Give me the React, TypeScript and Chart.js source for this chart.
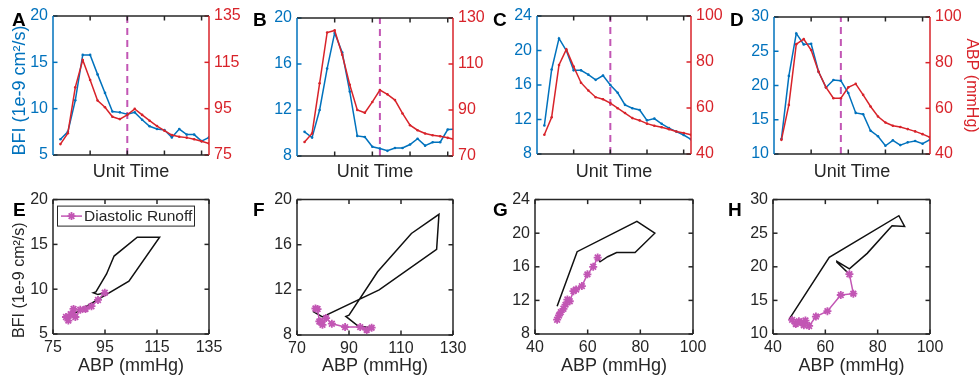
import React, { useEffect, useRef } from 'react';
import { Chart, registerables } from 'chart.js';

Chart.register(...registerables);

const FONT = '"Liberation Sans", Arial, Helvetica, sans-serif';
const BLUE = '#0072BD';
const RED = '#D8232A';
const MAGENTA = '#C256B4';
const DARK = '#262626';
const BLACK = '#111111';

// ---- data ----
const unitTime = [1, 2, 3, 4, 5, 6, 7, 8, 9, 10, 11, 12, 13, 14, 15, 16, 17, 18, 19, 20, 21];

const bfiA = [6.7, 7.5, 10.9, 15.8, 15.8, 13.7, 11.7, 9.7, 9.6, 9.4, 9.6, 8.8, 8.1, 7.8, 7.7, 6.9, 7.8, 7.2, 7.2, 6.5, 6.9];
const abpA = [79.7, 84.4, 104.2, 116.0, 107.4, 98.5, 95.6, 91.5, 90.5, 92.3, 94.9, 92.3, 89.8, 87.5, 85.5, 83.6, 82.9, 82.5, 81.8, 80.9, 80.0];

const bfiB = [10.1, 9.6, 12.0, 15.6, 18.7, 17.0, 13.6, 9.75, 9.65, 8.8, 8.65, 8.45, 8.7, 8.7, 9.0, 9.5, 8.9, 9.2, 9.2, 10.3, 10.35];
const abpB = [76.1, 79.8, 101.6, 123.7, 124.6, 114.0, 101.0, 90.0, 88.8, 93.5, 98.7, 96.8, 94.3, 88.5, 83.4, 81.2, 79.8, 79.0, 78.6, 77.9, 77.1];

const bfiC = [11.3, 17.8, 21.4, 20.0, 17.7, 17.7, 17.2, 16.6, 17.1, 16.0, 15.1, 13.7, 13.3, 13.1, 11.9, 12.1, 11.5, 11.0, 10.6, 10.2, 9.7];
const abpC = [48.4, 56.0, 78.7, 85.5, 78.0, 71.0, 67.6, 64.7, 63.8, 62.1, 59.9, 57.8, 55.6, 54.6, 53.2, 52.3, 51.6, 50.8, 49.8, 49.1, 48.4];

const bfiD = [12.2, 21.4, 27.6, 26.0, 26.1, 22.0, 19.7, 20.8, 20.7, 18.9, 16.0, 15.8, 13.4, 12.6, 11.2, 12.0, 11.3, 11.7, 11.9, 11.5, 12.1];
const abpD = [46.2, 61.5, 88.1, 90.3, 85.5, 76.0, 69.2, 64.4, 64.4, 69.2, 70.7, 65.9, 60.8, 56.4, 53.8, 52.4, 51.8, 50.9, 49.9, 48.7, 47.3];

// index (0-based) where diastolic runoff begins, and dashed-line time
const runoffStartA = 10;
const runoffStartB = 10;
const runoffStartC = 8;
const runoffStartD = 9;
const dashTimeA = 10;
const dashTimeB = 11;
const dashTimeC = 10;
const dashTimeD = 9;

// tick values
const timeTicks = [5, 10, 15, 20];
const bfiTicksA = [5, 10, 15, 20];
const abpTicksA = [75, 95, 115, 135];
const bfiTicksB = [8, 12, 16, 20];
const abpTicksB = [70, 90, 110, 130];
const bfiTicksC = [8, 12, 16, 20, 24];
const abpTicksC = [40, 60, 80, 100];
const bfiTicksD = [10, 15, 20, 25, 30];
const abpTicksD = [40, 60, 80, 100];

const BFI_LABEL = 'BFI (1e-9 cm\u00B2/s)';
const ABP_TITLE = 'ABP (mmHg)';

type Box = { x: number; y: number; w: number; h: number };
type Area = { l: number; t: number; r: number; b: number };

type PanelDef = {
  id: string;
  kind: 'top' | 'bottom';
  letter: string;
  letterPos: [number, number];
  box: Box;
  area: Area;
  bfi: number[];
  abp: number[];
  bfiTicks: number[];
  abpTicks: number[];
  xMax?: number;
  dashAt?: number;
  runoff?: number;
  leftTitle?: string;
  leftTitleSize?: number;
  rightTitle?: boolean;
  legend?: boolean;
};

const panels: PanelDef[] = [
  { id: 'A', kind: 'top', letter: 'A', letterPos: [12, 26], box: { x: 0, y: 0, w: 244, h: 190 }, area: { l: 53, t: 16, r: 209, b: 155 }, bfi: bfiA, abp: abpA, bfiTicks: bfiTicksA, abpTicks: abpTicksA, xMax: 21, dashAt: dashTimeA, leftTitle: BFI_LABEL + '  ', leftTitleSize: 18 },
  { id: 'B', kind: 'top', letter: 'B', letterPos: [253, 26], box: { x: 244, y: 0, w: 240, h: 190 }, area: { l: 297, t: 18, r: 453, b: 156 }, bfi: bfiB, abp: abpB, bfiTicks: bfiTicksB, abpTicks: abpTicksB, xMax: 20.7, dashAt: dashTimeB },
  { id: 'C', kind: 'top', letter: 'C', letterPos: [493, 26], box: { x: 484, y: 0, w: 242, h: 190 }, area: { l: 537, t: 16, r: 691, b: 154 }, bfi: bfiC, abp: abpC, bfiTicks: bfiTicksC, abpTicks: abpTicksC, xMax: 21, dashAt: dashTimeC },
  { id: 'D', kind: 'top', letter: 'D', letterPos: [730, 26], box: { x: 726, y: 0, w: 253, h: 190 }, area: { l: 774, t: 17, r: 930, b: 154 }, bfi: bfiD, abp: abpD, bfiTicks: bfiTicksD, abpTicks: abpTicksD, xMax: 21, dashAt: dashTimeD, rightTitle: true },
  { id: 'E', kind: 'bottom', letter: 'E', letterPos: [13, 216], box: { x: 0, y: 185, w: 244, h: 198 }, area: { l: 53, t: 196, r: 209, b: 334 }, bfi: bfiA, abp: abpA, bfiTicks: bfiTicksA, abpTicks: abpTicksA, runoff: runoffStartA, leftTitle: BFI_LABEL + '      ', leftTitleSize: 16, legend: true },
  { id: 'F', kind: 'bottom', letter: 'F', letterPos: [253, 216], box: { x: 244, y: 185, w: 240, h: 198 }, area: { l: 297, t: 198, r: 453, b: 335 }, bfi: bfiB, abp: abpB, bfiTicks: bfiTicksB, abpTicks: abpTicksB, runoff: runoffStartB },
  { id: 'G', kind: 'bottom', letter: 'G', letterPos: [493, 216], box: { x: 484, y: 185, w: 242, h: 198 }, area: { l: 535, t: 195, r: 693, b: 334 }, bfi: bfiC, abp: abpC, bfiTicks: bfiTicksC, abpTicks: abpTicksC, runoff: runoffStartC },
  { id: 'H', kind: 'bottom', letter: 'H', letterPos: [728, 216], box: { x: 726, y: 185, w: 253, h: 198 }, area: { l: 773, t: 196, r: 930, b: 334 }, bfi: bfiD, abp: abpD, bfiTicks: bfiTicksD, abpTicks: abpTicksD, runoff: runoffStartD },
];

function drawStar(ctx: CanvasRenderingContext2D, x: number, y: number, r: number) {
  ctx.beginPath();
  for (let k = 0; k < 4; k++) {
    const ang = (k * Math.PI) / 4;
    const dx = Math.cos(ang) * r;
    const dy = Math.sin(ang) * r;
    ctx.moveTo(x - dx, y - dy);
    ctx.lineTo(x + dx, y + dy);
  }
  ctx.stroke();
}

function makePanelPlugin(p: PanelDef, leftColor: string, rightColor: string) {
  return {
    id: 'panelFrame',
    afterDatasetsDraw(chart: any) {
      const { ctx, chartArea: a, scales } = chart;
      const TL = 4.5;
      ctx.save();
      ctx.lineWidth = 1.5;
      const seg = (x1: number, y1: number, x2: number, y2: number, c: string) => {
        ctx.strokeStyle = c;
        ctx.beginPath();
        ctx.moveTo(x1, y1);
        ctx.lineTo(x2, y2);
        ctx.stroke();
      };
      const xt = p.kind === 'top' ? timeTicks : p.abpTicks;
      for (const v of xt) {
        const px = scales.x.getPixelForValue(v);
        seg(px, a.bottom, px, a.bottom - TL, DARK);
        seg(px, a.top, px, a.top + TL, DARK);
      }
      for (const v of p.bfiTicks) {
        const py = scales.y.getPixelForValue(v);
        seg(a.left, py, a.left + TL, py, leftColor);
        if (p.kind === 'bottom') seg(a.right, py, a.right - TL, py, rightColor);
      }
      if (p.kind === 'top') {
        for (const v of p.abpTicks) {
          const py = scales.y2.getPixelForValue(v);
          seg(a.right, py, a.right - TL, py, rightColor);
        }
      }
      seg(a.left, a.top, a.right, a.top, DARK);
      seg(a.left, a.bottom, a.right, a.bottom, DARK);
      seg(a.left, a.top, a.left, a.bottom, leftColor);
      seg(a.right, a.top, a.right, a.bottom, rightColor);
      ctx.restore();
    },
    afterDraw(chart: any) {
      const { ctx, chartArea: a } = chart;
      ctx.save();
      ctx.fillStyle = '#000';
      ctx.font = `bold 19px ${FONT}`;
      ctx.textBaseline = 'alphabetic';
      ctx.textAlign = 'left';
      ctx.fillText(p.letter, p.letterPos[0] - p.box.x, p.letterPos[1] - p.box.y);
      if (p.legend) {
        const bx = a.left + 4.5;
        const by = a.top + 6.5;
        const bw = 137;
        const bh = 20;
        ctx.fillStyle = '#fff';
        ctx.fillRect(bx, by, bw, bh);
        ctx.strokeStyle = DARK;
        ctx.lineWidth = 1;
        ctx.strokeRect(bx, by, bw, bh);
        const cy = by + bh / 2;
        ctx.strokeStyle = MAGENTA;
        ctx.lineWidth = 1.5;
        ctx.beginPath();
        ctx.moveTo(bx + 3.5, cy);
        ctx.lineTo(bx + 24.5, cy);
        ctx.stroke();
        ctx.lineWidth = 1.8;
        drawStar(ctx, bx + 14, cy, 4);
        ctx.fillStyle = DARK;
        ctx.font = `15.5px ${FONT}`;
        ctx.textBaseline = 'middle';
        ctx.fillText('Diastolic Runoff', bx + 26.5, cy + 0.5);
      }
      ctx.restore();
    },
  };
}

function fixedTicks(vals: number[]) {
  return (s: any) => {
    s.ticks = vals.map((v) => ({ value: v }));
  };
}

function buildConfig(p: PanelDef): any {
  const leftW = p.area.l - p.box.x;
  const rightW = p.box.x + p.box.w - p.area.r;
  const xH = p.box.y + p.box.h - p.area.b;
  const padTop = p.area.t - p.box.y;
  const tickFont = { family: FONT, size: 16 };
  const titleFont = { family: FONT, size: 18, lineHeight: 1 };
  const leftTitleSize = p.leftTitleSize || 18;
  const leftTitleFont = { family: FONT, size: leftTitleSize, lineHeight: 1 };
  const leftTitlePad = { top: 20 - leftTitleSize / 2, bottom: 0 };
  const bfiMin = p.bfiTicks[0];
  const bfiMax = p.bfiTicks[p.bfiTicks.length - 1];
  const abpMin = p.abpTicks[0];
  const abpMax = p.abpTicks[p.abpTicks.length - 1];

  const common = {
    responsive: false,
    animation: false,
    devicePixelRatio: 1,
    events: [],
    plugins: { legend: { display: false }, tooltip: { enabled: false } },
  };

  if (p.kind === 'top') {
    const bluePts = unitTime.map((t, i) => ({ x: t, y: p.bfi[i] }));
    const redPts = unitTime.map((t, i) => ({ x: t, y: p.abp[i] }));
    return {
      type: 'line',
      data: {
        datasets: [
          {
            label: 'runoff onset',
            data: [{ x: p.dashAt, y: bfiMin }, { x: p.dashAt, y: bfiMax }],
            yAxisID: 'y',
            borderColor: MAGENTA,
            borderWidth: 2,
            borderDash: [7, 5],
            pointRadius: 0,
            order: 3,
          },
          {
            label: 'BFI',
            data: bluePts,
            yAxisID: 'y',
            borderColor: BLUE,
            backgroundColor: BLUE,
            borderWidth: 1.5,
            pointRadius: 1.3,
            pointBorderWidth: 0,
            tension: 0,
            order: 2,
          },
          {
            label: 'ABP',
            data: redPts,
            yAxisID: 'y2',
            borderColor: RED,
            backgroundColor: RED,
            borderWidth: 1.5,
            pointRadius: 1.3,
            pointBorderWidth: 0,
            tension: 0,
            order: 1,
          },
        ],
      },
      options: {
        ...common,
        layout: { padding: { top: padTop, left: 0, right: 0, bottom: 0 } },
        scales: {
          x: {
            type: 'linear',
            position: 'bottom',
            min: 0,
            max: p.xMax,
            grid: { display: false, drawTicks: false },
            border: { display: false },
            ticks: { display: false },
            title: { display: true, text: 'Unit Time', color: DARK, font: titleFont, padding: { top: 0, bottom: 9 } },
            afterFit: (s: any) => { s.height = xH; },
          },
          y: {
            type: 'linear',
            position: 'left',
            min: bfiMin,
            max: bfiMax,
            afterBuildTicks: fixedTicks(p.bfiTicks),
            grid: { display: false, drawTicks: false },
            border: { display: false },
            ticks: { color: BLUE, font: tickFont, padding: 5 },
            title: { display: !!p.leftTitle, text: p.leftTitle || '', color: BLUE, font: leftTitleFont, padding: leftTitlePad },
            afterFit: (s: any) => { s.width = leftW; },
          },
          y2: {
            type: 'linear',
            position: 'right',
            min: abpMin,
            max: abpMax,
            afterBuildTicks: fixedTicks(p.abpTicks),
            grid: { display: false, drawTicks: false },
            border: { display: false },
            ticks: { color: RED, font: tickFont, padding: 5 },
            title: { display: !!p.rightTitle, text: ABP_TITLE, color: RED, font: { family: FONT, size: 16, lineHeight: 1 }, padding: { top: 0, bottom: 0 } },
            afterFit: (s: any) => { s.width = rightW; },
          },
        },
      },
      plugins: [makePanelPlugin(p, BLUE, RED)],
    };
  }

  const pairs = p.abp.map((a, i) => ({ x: a, y: p.bfi[i] }));
  const start = p.runoff as number;
  return {
    type: 'line',
    data: {
      datasets: [
        {
          label: 'Systolic',
          data: pairs.slice(0, start + 1),
          borderColor: BLACK,
          backgroundColor: BLACK,
          borderWidth: 1.5,
          pointRadius: 0,
          tension: 0,
          order: 2,
        },
        {
          label: 'Diastolic Runoff',
          data: pairs.slice(start),
          borderColor: MAGENTA,
          backgroundColor: MAGENTA,
          borderWidth: 1.5,
          pointStyle: 'star',
          pointRadius: 4,
          pointBorderColor: MAGENTA,
          pointBorderWidth: 1.8,
          tension: 0,
          order: 1,
        },
      ],
    },
    options: {
      ...common,
      layout: { padding: { top: padTop, left: 0, right: rightW, bottom: 0 } },
      scales: {
        x: {
          type: 'linear',
          position: 'bottom',
          min: abpMin,
          max: abpMax,
          afterBuildTicks: fixedTicks(p.abpTicks),
          grid: { display: false, drawTicks: false },
          border: { display: false },
          ticks: { color: DARK, font: tickFont, padding: 4, maxRotation: 0 },
          title: { display: true, text: ABP_TITLE, color: DARK, font: titleFont, padding: { top: 0, bottom: 7.5 } },
          afterFit: (s: any) => { s.height = xH; },
        },
        y: {
          type: 'linear',
          position: 'left',
          min: bfiMin,
          max: bfiMax,
          afterBuildTicks: fixedTicks(p.bfiTicks),
          grid: { display: false, drawTicks: false },
          border: { display: false },
          ticks: { color: DARK, font: tickFont, padding: 5 },
          title: { display: !!p.leftTitle, text: p.leftTitle || '', color: DARK, font: leftTitleFont, padding: leftTitlePad },
          afterFit: (s: any) => { s.width = leftW; },
        },
      },
    },
    plugins: [makePanelPlugin(p, DARK, DARK)],
  };
}

function PanelCanvas({ panel }: { panel: PanelDef }) {
  const ref = useRef<HTMLCanvasElement | null>(null);
  useEffect(() => {
    if (!ref.current) return;
    const chart = new Chart(ref.current, buildConfig(panel));
    return () => chart.destroy();
  }, [panel]);
  const b = panel.box;
  return (
    <canvas
      ref={ref}
      width={b.w}
      height={b.h}
      style={{ position: 'absolute', left: b.x, top: b.y, width: b.w, height: b.h }}
    />
  );
}

export default function App() {
  return (
    <div style={{ position: 'fixed', left: 0, top: 0, width: 979, height: 383, background: '#fff', overflow: 'hidden' }}>
      {panels.map((p) => (
        <PanelCanvas key={p.id} panel={p} />
      ))}
    </div>
  );
}
